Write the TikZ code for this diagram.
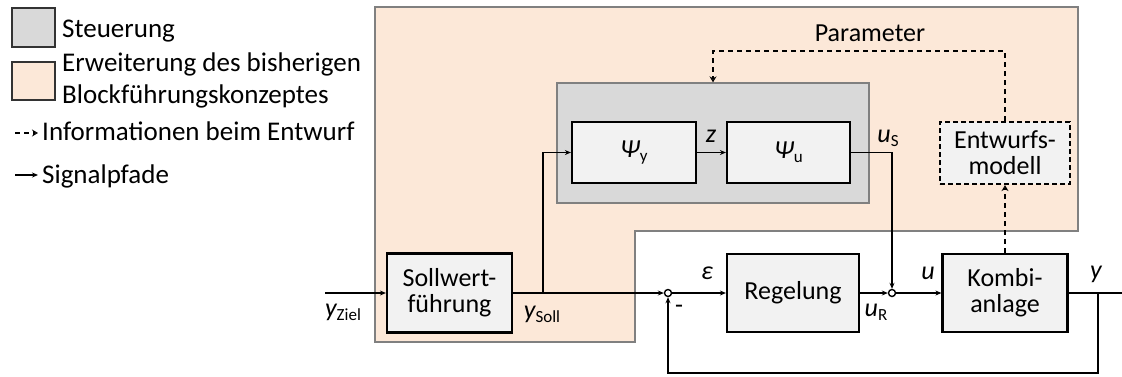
\documentclass[tikz,border=0pt]{standalone}
\usepackage{fontspec}
\setmainfont{Carlito}
\usetikzlibrary{arrows.meta}
\definecolor{orfill}{HTML}{FCE8D8}
\definecolor{grfill}{HTML}{D9D9D9}
\definecolor{bxfill}{HTML}{F2F2F2}
\definecolor{bord}{HTML}{808080}
\newcommand{\bigf}{\fontsize{26}{29}\selectfont}
\newcommand{\legf}{\fontsize{27}{30}\selectfont}
\newcommand{\subf}{\fontsize{17}{19}\selectfont}
\newcommand{\sbx}[1]{\raisebox{-4pt}{\subf #1}}
\begin{document}
\begin{tikzpicture}[x=1pt,y=-1pt,
  blk/.style={draw=black, line width=2.2pt, fill=bxfill, align=center, inner sep=0pt, font=\bigf},
  sig/.style={line width=1.7pt, -{Stealth[length=6pt,width=5pt]}},
  info/.style={line width=1.9pt, dash pattern=on 5pt off 4pt, -{Stealth[length=6pt,width=7pt,open]}},
  lbl/.style={font=\bigf, inner sep=0pt},
  leg/.style={font=\legf, inner sep=0pt, anchor=base west},
  sumj/.style={circle, draw, line width=1.4pt, fill=white, minimum size=7pt, inner sep=0pt}
]
\useasboundingbox (0,0) rectangle (1122,376);
% legend
\node[draw=black!80, line width=1.5pt, fill=grfill, minimum width=43pt, minimum height=39pt, inner sep=0pt] (lg1) at (33.5,27.5) {};
\node[leg] (lt1) at (62,37) {Steuerung};
\node[draw=black!80, line width=1.5pt, fill=orfill, minimum width=43pt, minimum height=38pt, inner sep=0pt] (lg2) at (33.5,81) {};
\node[leg] (lt2) at (62,71) {Erweiterung des bisherigen};
\node[leg] (lt3) at (62,103) {Blockführungskonzeptes};
\node[leg] (lt4) at (42,140) {Informationen beim Entwurf};
\node[leg] (lt5) at (42,183) {Signalpfade};
\coordinate (la1) at (15,133);
\coordinate (la1e) at (38,133);
\coordinate (la2) at (15,175);
\coordinate (la2e) at (38,175);
\draw[info] (la1) -- (la1e);
\draw[sig] (la2) -- (la2e);
% regions
\draw[draw=bord, fill=orfill, line width=1.3pt] (375,7) -- (1078,7) -- (1078,231) -- (635,231) -- (635,342) -- (375,342) -- cycle;
\node[draw=bord, fill=grfill, line width=1.3pt, minimum width=312pt, minimum height=120pt, inner sep=0pt] (steu) at (713,143) {};
% blocks
\node[blk, minimum width=124pt, minimum height=61pt] (psiy) at (634,152.5) {\itshape Ψ\sbx{\upshape y}};
\node[blk, minimum width=123pt, minimum height=61pt] (psiu) at (788.5,152.5) {\itshape Ψ\sbx{\upshape u}};
\node[blk, dash pattern=on 5pt off 3pt, minimum width=130pt, minimum height=62pt] (entw) at (1005,153) {Entwurfs-\\[-3pt]modell};
\node[blk, minimum width=125pt, minimum height=79pt] (soll) at (449.5,293) {Sollwert-\\[-3pt]führung};
\node[blk, minimum width=132pt, minimum height=78pt] (reg) at (793,293) {Regelung};
\node[blk, minimum width=125pt, minimum height=78pt] (kombi) at (1005,293) {Kombi-\\[-3pt]anlage};
\node[sumj] (s1) at (668,293) {};
\node[sumj] (s2) at (892,293) {};
% coordinates
\coordinate (in) at (325,293);
\coordinate (bs) at (543,293);
\coordinate (br) at (1098,293);
\coordinate (out) at (1122,293);
\coordinate (fb) at (1098,373);
\coordinate (pc) at (713,51);
% connectors
\draw[sig] (in) -- (soll.west);
\draw[sig] (soll.east) -- (s1);
\draw[sig] (bs) |- (psiy.west);
\draw[sig] (psiy.east) -- (psiu.west);
\draw[sig] (psiu.east) -| (s2);
\draw[sig] (s1) -- (reg.west);
\draw[sig] (reg.east) -- (s2);
\draw[sig] (s2) -- (kombi.west);
\draw[line width=1.7pt] (kombi.east) -- (out);
\draw[sig] (br) -- (fb) -| (s1);
\draw[info] (kombi.north) -- (entw.south);
\draw[info] (entw.north) |- (pc) -- (steu.north);
% labels
\node[lbl] (lpar) at (870,33) {Parameter};
\node[lbl] (lz) at (711,136) {\itshape z};
\node[lbl] (lus) at (888,138) {\itshape u\sbx{\upshape S}};
\node[lbl] (lyz) at (343,312) {\itshape y\sbx{\upshape Ziel}};
\node[lbl] (lys) at (542,314) {\itshape y\sbx{\upshape Soll}};
\node[lbl] (leps) at (707,273) {\itshape ε};
\node[lbl] (lmin) at (679,309) {-};
\node[lbl] (lur) at (876,312) {\itshape u\sbx{\upshape R}};
\node[lbl] (lu) at (928,273) {\itshape u};
\node[lbl] (ly) at (1096,274) {\itshape y};
\end{tikzpicture}
\end{document}
